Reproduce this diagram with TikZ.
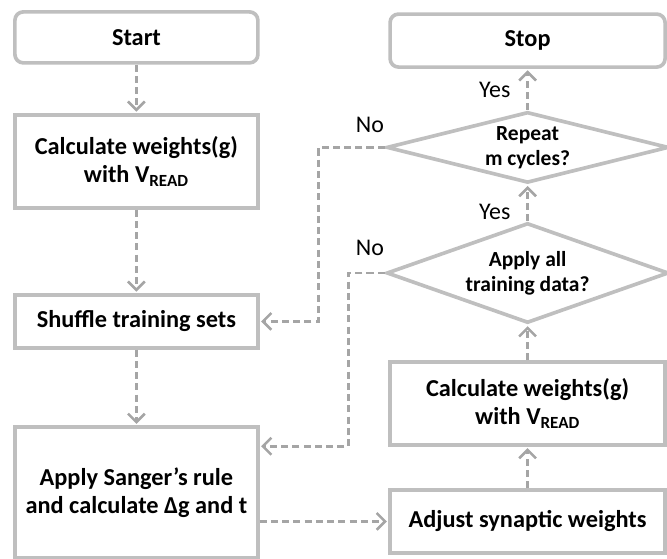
\documentclass[tikz,border=0pt]{standalone}
\usepackage{fontspec}
\setmainfont{Carlito}
\usetikzlibrary{shapes.geometric}
\usetikzlibrary{arrows.meta}
\definecolor{boxgray}{RGB}{191,191,191}
\definecolor{flowgray}{RGB}{165,165,165}

\begin{document}
\begin{tikzpicture}[
		box/.style={draw=boxgray, line width=2.6pt, align=center, inner sep=0pt,
			font=\fontsize{17.3}{20}\selectfont\bfseries},
		endbox/.style={box, rounded corners=6pt},
		decision/.style={diamond, draw=boxgray, line width=2.6pt, align=center, inner sep=0pt,
			aspect=3, minimum width=7.05cm, font=\fontsize{15.3}{18}\selectfont\bfseries},
		flow/.style={draw=flowgray, line width=1.8pt, dash pattern=on 5pt off 3pt, shorten >=1pt,
			-{Straight Barb[length=6pt,width=12pt]}},
		tag/.style={font=\fontsize{17}{20}\selectfont}]
		\useasboundingbox (0,0) rectangle (16.675,13.975);
		% left column
		\node[endbox, minimum width=6.075cm, minimum height=1.275cm] (start) at (3.41,13.04) {Start};
		\node[box, minimum width=6.075cm, minimum height=2.325cm] (calcl) at (3.41,9.94) {Calculate weights(g)\\with V\textsubscript{READ}};
		\node[box, minimum width=6.075cm, minimum height=1.325cm] (shuffle) at (3.41,5.94) {Shuffle training sets};
		\node[box, minimum width=6.075cm, minimum height=3.275cm] (sanger) at (3.41,1.66) {Apply Sanger’s rule\\and calculate Δg and t};
		\draw[flow] (start) -- (calcl);
		\draw[flow] (calcl) -- (shuffle);
		\draw[flow] (shuffle) -- (sanger);
		% right column
		\node[endbox, minimum width=6.875cm, minimum height=1.325cm] (stop) at (13.19,12.96) {Stop};
		\node[decision, minimum height=1.725cm] (repeat) at (13.19,10.29) {Repeat\\m cycles?};
		\node[decision, minimum height=2.5cm] (allset) at (13.19,7.15) {Apply all\\training data?};
		\node[box, minimum width=6.875cm, minimum height=2.075cm] (calcr) at (13.19,3.89) {Calculate weights(g)\\with V\textsubscript{READ}};
		\node[box, minimum width=6.875cm, minimum height=1.575cm] (adjust) at (13.19,0.94) {Adjust synaptic weights};
		\draw[flow] (sanger.east |- adjust.west) -- (adjust.west);
		\draw[flow] (adjust) -- (calcr);
		\draw[flow] (calcr) -- (allset.south);
		\draw[flow] (allset.north) -- node[tag, pos=0.25, left=8pt] {Yes} (repeat.south);
		\draw[flow] (repeat.north) -- node[tag, left=8pt] {Yes} (stop);
		% loops back
		\node[tag] (norepeat) at (9.25,10.85) {No};
		\node[tag] (noall) at (9.25,7.775) {No};
		\draw[flow] (repeat.west) -- ++(-1.66,0) |- (shuffle.east);
		\draw[flow] (allset.west) -- ++(-0.91,0) |- ([yshift=-0.525cm]sanger.north east);
	\end{tikzpicture}
\end{document}
